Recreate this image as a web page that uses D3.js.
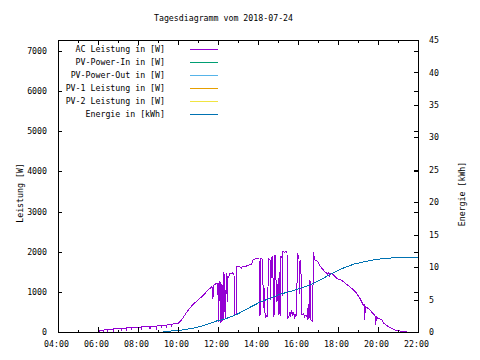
<!DOCTYPE html>
<html><head><meta charset="utf-8">
<script src="https://cdn.jsdelivr.net/npm/d3@7"></script>
<style>
body{margin:0;background:#fff}
svg{display:block;background:#fff}
text{font-family:"DejaVu Sans Mono","Liberation Mono",monospace;font-size:8.25px;fill:#000}
</style></head><body>
<svg id="c" width="480" height="360"></svg>
<script>
// ---------------- data ----------------
const chartTitle = "Tagesdiagramm vom 2018-07-24";
const yLeftLabel = "Leistung [W]";
const yRightLabel = "Energie [kWh]";
const seriesNames = ["AC Leistung in [W]", "PV-Power-In in [W]", "PV-Power-Out in [W]", "PV-1 Leistung in [W]", "PV-2 Leistung in [W]", "Energie in [kWh]"];
const seriesColors = ["#9400d3", "#009e73", "#56b4e9", "#e69f00", "#f0e442", "#0072b2"];
const leftTicks = [0, 1000, 2000, 3000, 4000, 5000, 6000, 7000];
const rightTicks = [0, 5, 10, 15, 20, 25, 30, 35, 40, 45];
const xTickLabels = ["04:00", "06:00", "08:00", "10:00", "12:00", "14:00", "16:00", "18:00", "20:00", "22:00"];
const xMinorTicks = ["05:00", "07:00", "09:00", "11:00", "13:00", "15:00", "17:00", "19:00", "21:00"];

// AC Leistung [W]
const acTimes = ["06:05","06:06","06:15","06:16","06:17","06:28","06:29","06:30","06:35","06:45","06:46","06:47","07:00","07:10","07:11","07:12","07:25","07:26","07:27","07:40","07:41","07:42","08:00","08:10","08:11","08:12","08:30","08:35","08:36","08:37","08:55","08:56","08:57","09:10","09:11","09:12","09:25","09:26","09:27","09:40","09:41","09:42","09:50","10:00","10:05","10:10","10:16","10:25","10:31","10:40","10:51","11:00","11:11","11:21","11:30","11:36","11:41","11:42","11:43","11:45","11:46","11:50","11:56","11:58","11:59","12:00","12:01","12:02","12:04","12:08","12:09","12:10","12:11","12:13","12:14","12:16","12:17","12:19","12:20","12:21","12:22","12:23","12:25","12:27","12:28","12:30","12:32","12:36","12:40","12:44","12:48","12:50","12:52","12:55","12:57","13:05","13:10","13:15","13:20","13:30","13:40","13:45","13:55","14:03","14:04","14:07","14:09","14:14","14:16","14:18","14:20","14:22","14:26","14:29","14:31","14:36","14:38","14:40","14:44","14:45","14:47","14:48","14:50","14:51","14:53","14:55","14:57","14:59","15:01","15:03","15:05","15:07","15:09","15:12","15:13","15:15","15:20","15:24","15:27","15:29","15:33","15:36","15:38","15:41","15:44","15:47","15:50","15:53","15:56","15:58","16:01","16:03","16:04","16:06","16:08","16:10","16:12","16:16","16:20","16:24","16:28","16:31","16:33","16:36","16:38","16:42","16:44","16:46","16:49","16:51","17:00","17:06","17:11","17:21","17:30","17:33","17:35","17:38","17:45","17:56","18:11","18:26","18:41","18:56","19:06","19:16","19:19","19:20","19:22","19:36","19:51","19:53","19:55","20:00","20:12","20:15","20:24","20:36","20:51","21:03","21:15","21:27","21:33"];
const acWatts = [0,40,45,0,50,60,0,65,70,75,10,80,85,90,20,95,100,30,105,110,40,115,120,125,60,125,130,135,70,140,145,60,150,155,90,160,170,110,175,185,120,195,205,216,250,300,365,480,547,640,729,800,878,962,1040,1087,1127,1130,838,850,1150,1180,1211,1215,920,1211,1230,256,1251,1240,256,260,1170,1150,300,320,1460,1440,505,1000,1010,340,1460,1440,754,1335,1380,1460,1450,1470,1420,423,430,440,1624,1620,1590,1640,1624,1660,1680,1790,1833,1840,420,440,1830,1810,590,1100,600,370,400,380,1830,1800,800,1850,1870,1340,1300,420,440,1920,1880,750,1200,760,1350,420,1500,400,1900,1850,900,2000,1980,2020,1960,350,400,500,380,550,400,480,370,420,400,1970,1880,1820,950,1760,1800,1100,420,460,380,420,350,700,320,1300,300,280,260,1990,1850,1790,1750,1650,1587,1500,1435,1480,1400,1460,1435,1335,1290,1185,1087,962,838,671,680,300,640,547,405,175,380,340,300,240,170,110,50,30,10,0,0];

// Energie [kWh]
const energyTimes = ["07:24","09:15","09:16","10:00","10:30","10:51","11:10","11:31","11:56","12:21","12:56","13:36","14:06","14:36","15:01","15:16","15:40","16:06","16:21","16:41","17:06","17:36","18:00","18:26","18:50","19:16","19:40","20:06","20:30","20:56","21:30","22:00"];
const energyKWh = [0,0,0.1,0.2,0.45,0.65,0.9,1.23,1.7,2.0,2.7,3.8,4.6,5.2,5.7,5.96,6.3,6.73,7.0,7.35,8.0,8.86,9.5,10.06,10.5,10.79,11.05,11.25,11.38,11.45,11.46,11.46];

// PV series without drawn values in this chart
const pvPowerIn = [], pvPowerOut = [], pv1 = [], pv2 = [];

// ---------------- drawing ----------------
const parse = d3.timeParse("%H:%M");
const svg = d3.select("#c");
const L = 58, R = 418, T = 40, B = 332;

const x = d3.scaleTime().domain([parse("04:00"), parse("22:00")]).range([L, R]);
const yL = d3.scaleLinear().domain([0, 7270]).range([B, T]);
const yR = d3.scaleLinear().domain([0, 45]).range([B, T]);

const acData = acTimes.map((t, i) => ({t: parse(t), v: acWatts[i]}));
const enData = energyTimes.map((t, i) => ({t: parse(t), v: energyKWh[i]}));

const g = svg.append("g");

g.append("path").datum(acData)
  .attr("fill", "none").attr("stroke", seriesColors[0]).attr("stroke-width", 1)
  .attr("shape-rendering", "crispEdges")
  .attr("d", d3.line().x(d => x(d.t)).y(d => yL(d.v)));

[pvPowerIn, pvPowerOut, pv1, pv2].forEach((arr, i) => {
  if (arr.length) g.append("path").datum(arr).attr("fill","none").attr("stroke", seriesColors[i+1])
    .attr("d", d3.line().x(d => x(parse(d[0]))).y(d => yL(d[1])));
});

g.append("path").datum(enData)
  .attr("fill", "none").attr("stroke", seriesColors[5]).attr("stroke-width", 1)
  .attr("shape-rendering", "crispEdges")
  .attr("d", d3.line().x(d => x(d.t)).y(d => yR(d.v)));

// axes
function style(sel){
  sel.select(".domain").remove();
  sel.selectAll("line").attr("stroke", "#000").attr("shape-rendering", "crispEdges");
  sel.selectAll("text").attr("fill", "#000").style("font-family", null).style("font-size", null)
     .attr("font-family", null).attr("font-size", null);
}
const fmt = d3.timeFormat("%H:%M");
svg.append("g").attr("transform", `translate(0,${B})`)
  .call(d3.axisBottom(x).tickValues(xTickLabels.map(parse)).tickFormat(fmt).tickSize(-5).tickPadding(9))
  .call(style).selectAll("text").attr("dx", -2);
svg.append("g").attr("transform", `translate(0,${B})`)
  .call(d3.axisBottom(x).tickValues(xMinorTicks.map(parse)).tickFormat("").tickSize(-2.5)).call(style);
svg.append("g").attr("transform", `translate(0,${T})`)
  .call(d3.axisTop(x).tickValues(xTickLabels.map(parse)).tickFormat("").tickSize(-5)).call(style);
svg.append("g").attr("transform", `translate(0,${T})`)
  .call(d3.axisTop(x).tickValues(xMinorTicks.map(parse)).tickFormat("").tickSize(-2.5)).call(style);

svg.append("g").attr("transform", `translate(${L},0)`)
  .call(d3.axisLeft(yL).tickValues(leftTicks).tickFormat(d3.format("d")).tickSize(-4).tickPadding(11)).call(style);
svg.append("g").attr("transform", `translate(${R},0)`)
  .call(d3.axisRight(yL).tickValues(leftTicks).tickFormat("").tickSize(-4)).call(style);
svg.append("g").attr("transform", `translate(${R},0)`)
  .call(d3.axisRight(yR).tickValues(rightTicks).tickFormat(d3.format("d")).tickSize(-4).tickPadding(11)).call(style);

// border
svg.append("rect").attr("x", L).attr("y", T).attr("width", R - L).attr("height", B - T)
  .attr("fill", "none").attr("stroke", "#000").attr("shape-rendering", "crispEdges");

// titles
svg.append("text").attr("x", 223.5).attr("y", 20.7).attr("text-anchor", "middle").text(chartTitle);
svg.append("text").attr("transform", "translate(23,193) rotate(-90)").attr("text-anchor", "middle").text(yLeftLabel);
svg.append("text").attr("transform", "translate(465,194) rotate(-90)").attr("text-anchor", "middle").text(yRightLabel);

// legend
const leg = svg.append("g");
seriesNames.forEach((n, i) => {
  const yy = 49 + i * 13;
  leg.append("text").attr("x", 165).attr("y", yy + 2.5).attr("text-anchor", "end").text(n);
  leg.append("line").attr("x1", 190).attr("x2", 218).attr("y1", yy).attr("y2", yy)
    .attr("stroke", seriesColors[i]).attr("shape-rendering", "crispEdges");
});
</script>
</body></html>
